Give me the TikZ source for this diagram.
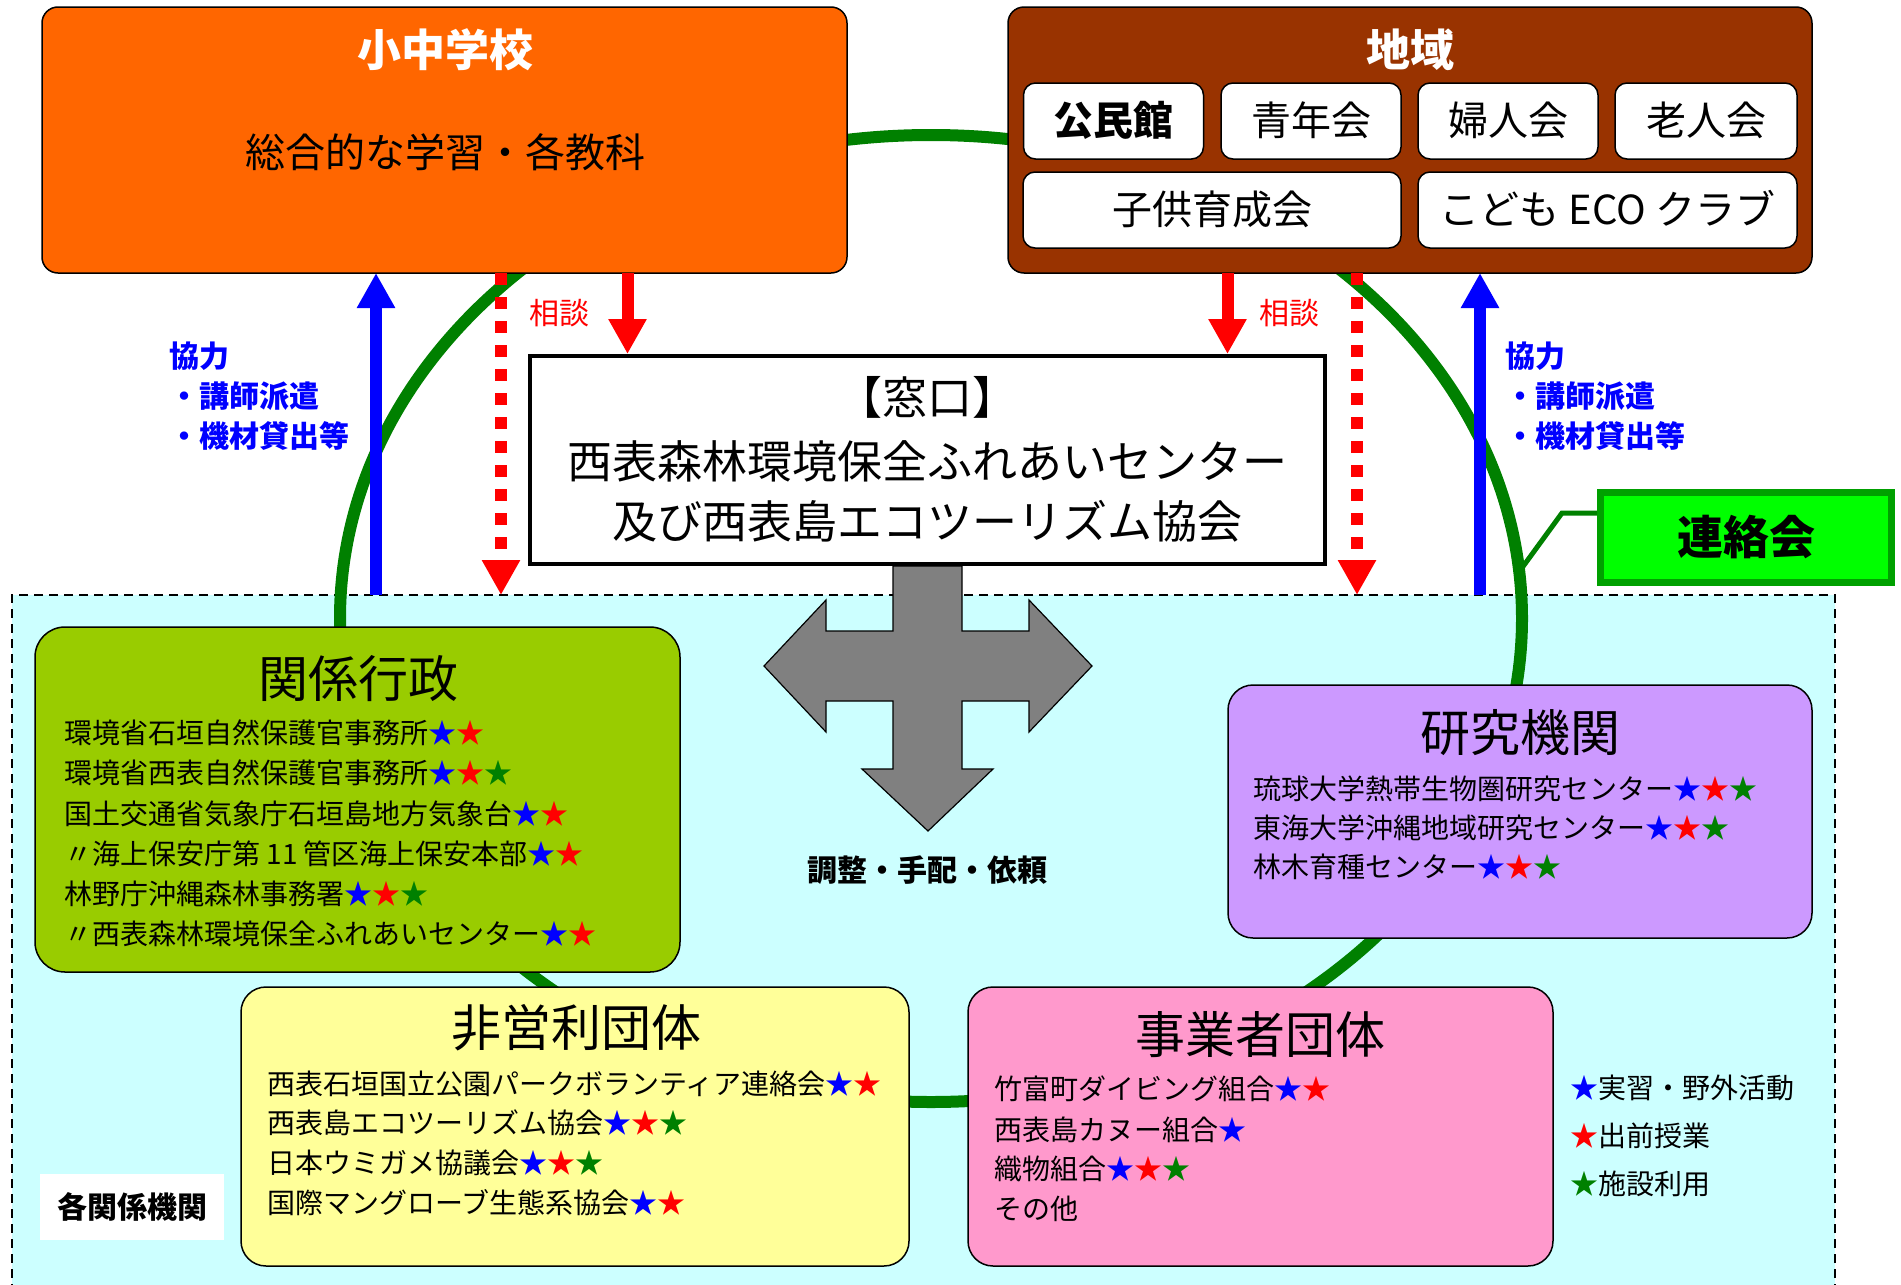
\documentclass[tikz,border=0pt]{standalone}
\usepackage{fontspec}
\setmainfont{Noto Sans CJK JP}
\usetikzlibrary{arrows.meta}
\definecolor{schoolC}{HTML}{FF6600}
\definecolor{regionC}{HTML}{993300}
\definecolor{areaC}{HTML}{CCFFFF}
\definecolor{adminC}{HTML}{99CC00}
\definecolor{npoC}{HTML}{FFFF99}
\definecolor{resC}{HTML}{CC99FF}
\definecolor{bizC}{HTML}{FF99CC}
\definecolor{ringC}{HTML}{008000}
\definecolor{renC}{HTML}{00FF00}
\definecolor{renB}{HTML}{00A000}
\definecolor{crossC}{HTML}{808080}
\definecolor{pureB}{HTML}{0000FF}
\definecolor{pureR}{HTML}{FF0000}
\newcommand{\StarB}{\textcolor{pureB}{★}}
\newcommand{\StarR}{\textcolor{pureR}{★}}
\newcommand{\StarG}{\textcolor{ringC}{★}}
\newcommand{\SetPx}[1]{\fontsize{#1}{#1}\selectfont}
\begin{document}
\begin{tikzpicture}[x=1pt,y=-1pt,
  box/.style={draw=black, line width=1.5pt, inner sep=0pt, outer sep=0pt},
  subbox/.style={box, fill=white, rounded corners=12pt, minimum height=76pt},
  s28/.style={inner sep=0pt, font=\SetPx{28}, text height=24.4pt, text depth=3.6pt},
  s30/.style={inner sep=0pt, font=\SetPx{30}, text height=26.1pt, text depth=3.9pt},
  s40/.style={inner sep=0pt, font=\SetPx{40}, text height=34.8pt, text depth=5.2pt},
  s44/.style={inner sep=0pt, font=\SetPx{44}, text height=38.3pt, text depth=5.7pt},
  s45/.style={inner sep=0pt, font=\SetPx{45}, text height=39.2pt, text depth=5.8pt},
  s46/.style={inner sep=0pt, font=\SetPx{46}, text height=40pt, text depth=6pt},
  s50/.style={inner sep=0pt, font=\SetPx{50}, text height=43.5pt, text depth=6.5pt},
  item/.style={s28, anchor=west},
  ctitle/.style={s50},
  bluetxt/.style={s30, anchor=west, text=pureB, font=\SetPx{30}\bfseries},
  redtxt/.style={s30, text=pureR},
  bluearr/.style={draw=pureB, line width=12pt, -{Triangle[length=35pt,width=36pt]}},
  redarr/.style={draw=pureR, line width=12pt, -{Triangle[length=35pt,width=36pt]}},
  reddash/.style={redarr, dash pattern=on 11.5pt off 12.5pt},
  ring/.style={draw=ringC, line width=12pt}
]
\useasboundingbox (0,0) rectangle (1901,1285);

% area of related organisations
\node[draw=black, line width=1.8pt, dash pattern=on 9pt off 6pt, fill=areaC,
      minimum width=1823pt, minimum height=720pt, inner sep=0pt, outer sep=0pt]
      (area) at (923.5,955) {};

% green ring
\coordinate (ringc) at (931,618.5);
\draw[ring] (ringc) ellipse [x radius=591, y radius=483.5];

% top boxes
\node[box, fill=schoolC, rounded corners=16pt, minimum width=805pt, minimum height=266pt] (school) at (444.5,140) {};
\node[box, fill=regionC, rounded corners=16pt, minimum width=804pt, minimum height=266pt] (region) at (1410,140) {};
\node[subbox, minimum width=180pt] (kominkan) at (1113.5,121) {};
\node[subbox, minimum width=180pt] (seinen) at (1311,121) {};
\node[subbox, minimum width=180pt] (fujin) at (1508,121) {};
\node[subbox, minimum width=182pt] (rojin) at (1706,121) {};
\node[subbox, minimum width=378pt] (kodomo) at (1212,210) {};
\node[subbox, minimum width=379pt] (eco) at (1607.5,210) {};

% cross arrow
\draw[fill=crossC, draw=black, line width=1.2pt]
  (893,566) -- (962,566) -- (962,631) -- (1029,631) -- (1029,600) -- (1092,666)
  -- (1029,732) -- (1029,701) -- (962,701) -- (962,769) -- (993,769) -- (928,831)
  -- (862,769) -- (893,769) -- (893,701) -- (826,701) -- (826,732) -- (764,666)
  -- (826,600) -- (826,631) -- (893,631) -- cycle;

% window box
\node[draw=black, line width=4pt, fill=white, minimum width=795pt, minimum height=208pt, inner sep=0pt] (window) at (927.5,460) {};

% organisation boxes
\node[box, fill=adminC, rounded corners=30pt, minimum width=645pt, minimum height=345pt] (admin) at (357.5,799.5) {};
\node[box, fill=npoC, rounded corners=25pt, minimum width=668pt, minimum height=279pt] (npo) at (575,1126.5) {};
\node[box, fill=resC, rounded corners=25pt, minimum width=584pt, minimum height=253pt] (research) at (1520,811.5) {};
\node[box, fill=bizC, rounded corners=25pt, minimum width=585pt, minimum height=279pt] (biz) at (1260.5,1126.5) {};
\node[draw=renB, line width=7pt, fill=renC, minimum width=291pt, minimum height=90pt, inner sep=0pt] (renraku) at (1746,537.5) {};
\node[fill=white, minimum width=184pt, minimum height=66pt, inner sep=0pt] (kakulbl) at (132,1207) {};

% arrows
\coordinate (blueL) at (376,595);
\coordinate (blueR) at (1480,595);
\draw[bluearr] (blueL) -- (blueL |- school.south);
\draw[bluearr] (blueR) -- (blueR |- region.south);
\coordinate (redL) at (627.5,273);
\coordinate (redR) at (1227.5,273);
\draw[redarr] (redL) -- (redL |- window.north);
\draw[redarr] (redR) -- (redR |- window.north);
\coordinate (dashL) at (501,273);
\coordinate (dashR) at (1357,273);
\draw[reddash] (dashL) -- (dashL |- area.north);
\draw[reddash] (dashR) -- (dashR |- area.north);

% leader of renraku
\coordinate (leadEnd) at (1519,572);
\draw[draw=ringC, line width=5pt] (renraku.west |- 0,513) -- (1562,513) -- (leadEnd);

% texts top
\node[s44, text=white, font=\SetPx{44}\bfseries] (tSchool) at (445,50) {小中学校};
\node[s40] (tSchool2) at (445,153) {総合的な学習・各教科};
\node[s44, text=white, font=\SetPx{44}\bfseries] (tRegion) at (1410,50) {地域};
\node[s40, font=\SetPx{40}\bfseries] at (kominkan) {公民館};
\node[s40] at (seinen) {青年会};
\node[s40] at (fujin) {婦人会};
\node[s40] at (rojin) {老人会};
\node[s40] at (kodomo) {子供育成会};
\node[s40] at (eco) {こども ECO クラブ};

% window text
\node[s45] (w1) at (927.5,398) {【窓口】};
\node[s45] (w2) at (927.5,462) {西表森林環境保全ふれあいセンター};
\node[s45] (w3) at (927.5,522) {及び西表島エコツーリズム協会};

% side labels
\node[redtxt] (soudanL) at (559,313) {相談};
\node[redtxt] (soudanR) at (1289,313) {相談};
\node[bluetxt] (kyoL1) at (169,356) {協力};
\node[bluetxt] (kyoL2) at (169,396) {・講師派遣};
\node[bluetxt] (kyoL3) at (169,436) {・機材貸出等};
\node[bluetxt] (kyoR1) at (1505,356) {協力};
\node[bluetxt] (kyoR2) at (1505,396) {・講師派遣};
\node[bluetxt] (kyoR3) at (1505,436) {・機材貸出等};
\node[s46, font=\SetPx{46}\bfseries] (tRen) at (renraku) {連絡会};
\node[s30, font=\SetPx{30}\bfseries] (tKaku) at (kakulbl) {各関係機関};
\node[s30, font=\SetPx{30}\bfseries] (tChosei) at (927.5,870) {調整・手配・依頼};

% admin
\node[ctitle] (tAdmin) at (358,679) {関係行政};
\node[item] (a1) at (64,733) {環境省石垣自然保護官事務所\StarB\StarR};
\node[item] (a2) at (64,773) {環境省西表自然保護官事務所\StarB\StarR\StarG};
\node[item] (a3) at (64,814) {国土交通省気象庁石垣島地方気象台\StarB\StarR};
\node[item] (a4) at (64,854) {〃海上保安庁第 11 管区海上保安本部\StarB\StarR};
\node[item] (a5) at (64,894) {林野庁沖縄森林事務署\StarB\StarR\StarG};
\node[item] (a6) at (64,934) {〃西表森林環境保全ふれあいセンター\StarB\StarR};

% npo
\node[ctitle] (tNpo) at (576,1028) {非営利団体};
\node[item] (n1) at (267,1084) {西表石垣国立公園パークボランティア連絡会\StarB\StarR};
\node[item] (n2) at (267,1123) {西表島エコツーリズム協会\StarB\StarR\StarG};
\node[item] (n3) at (267,1163) {日本ウミガメ協議会\StarB\StarR\StarG};
\node[item] (n4) at (267,1203) {国際マングローブ生態系協会\StarB\StarR};

% research
\node[ctitle] (tRes) at (1520,733) {研究機関};
\node[item] (r1) at (1253,789) {琉球大学熱帯生物圏研究センター\StarB\StarR\StarG};
\node[item] (r2) at (1253,828) {東海大学沖縄地域研究センター\StarB\StarR\StarG};
\node[item] (r3) at (1253,867) {林木育種センター\StarB\StarR\StarG};

% business
\node[ctitle] (tBiz) at (1260,1035) {事業者団体};
\node[item] (b1) at (994,1089) {竹富町ダイビング組合\StarB\StarR};
\node[item] (b2) at (994,1130) {西表島カヌー組合\StarB};
\node[item] (b3) at (994,1169) {織物組合\StarB\StarR\StarG};
\node[item] (b4) at (994,1209) {その他};

% legend
\node[item] (l1) at (1570,1088) {\StarB 実習・野外活動};
\node[item] (l2) at (1570,1136) {\StarR 出前授業};
\node[item] (l3) at (1570,1184) {\StarG 施設利用};
\end{tikzpicture}
\end{document}
